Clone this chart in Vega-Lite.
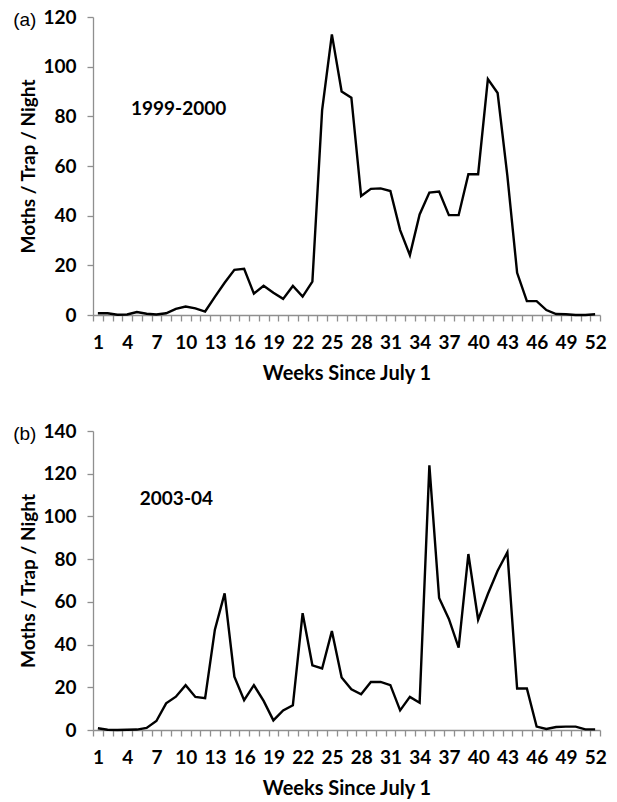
{
  "$schema": "https://vega.github.io/schema/vega-lite/v6.json",
  "padding": {"left": 13, "top": 8, "right": 10, "bottom": 1},
  "spacing": 39,
  "datasets": {
    "season1999": [
      {"week": 1, "moths": 0.7}, {"week": 2, "moths": 0.7}, {"week": 3, "moths": 0.1}, {"week": 4, "moths": 0.2},
      {"week": 5, "moths": 1.2}, {"week": 6, "moths": 0.5}, {"week": 7, "moths": 0.2}, {"week": 8, "moths": 0.7},
      {"week": 9, "moths": 2.5}, {"week": 10, "moths": 3.4}, {"week": 11, "moths": 2.7}, {"week": 12, "moths": 1.4},
      {"week": 13, "moths": 7.3}, {"week": 14, "moths": 13.0}, {"week": 15, "moths": 18.2}, {"week": 16, "moths": 18.6},
      {"week": 17, "moths": 8.6}, {"week": 18, "moths": 11.8}, {"week": 19, "moths": 9.0}, {"week": 20, "moths": 6.5},
      {"week": 21, "moths": 11.7}, {"week": 22, "moths": 7.4}, {"week": 23, "moths": 13.4}, {"week": 24, "moths": 82.5},
      {"week": 25, "moths": 113.0}, {"week": 26, "moths": 90.0}, {"week": 27, "moths": 87.5}, {"week": 28, "moths": 47.9},
      {"week": 29, "moths": 50.8}, {"week": 30, "moths": 51.0}, {"week": 31, "moths": 49.9}, {"week": 32, "moths": 34.2},
      {"week": 33, "moths": 24.1}, {"week": 34, "moths": 40.5}, {"week": 35, "moths": 49.3}, {"week": 36, "moths": 49.7},
      {"week": 37, "moths": 40.2}, {"week": 38, "moths": 40.2}, {"week": 39, "moths": 56.7}, {"week": 40, "moths": 56.7},
      {"week": 41, "moths": 95.0}, {"week": 42, "moths": 89.4}, {"week": 43, "moths": 56.0}, {"week": 44, "moths": 17.0},
      {"week": 45, "moths": 5.6}, {"week": 46, "moths": 5.6}, {"week": 47, "moths": 2.0}, {"week": 48, "moths": 0.4},
      {"week": 49, "moths": 0.3}, {"week": 50, "moths": 0.0}, {"week": 51, "moths": 0.0}, {"week": 52, "moths": 0.3}
    ],
    "season2003": [
      {"week": 1, "moths": 0.8}, {"week": 2, "moths": 0.1}, {"week": 3, "moths": 0.0}, {"week": 4, "moths": 0.1},
      {"week": 5, "moths": 0.2}, {"week": 6, "moths": 1.0}, {"week": 7, "moths": 4.2}, {"week": 8, "moths": 12.5},
      {"week": 9, "moths": 15.6}, {"week": 10, "moths": 21.0}, {"week": 11, "moths": 15.5}, {"week": 12, "moths": 14.9},
      {"week": 13, "moths": 47.0}, {"week": 14, "moths": 64.0}, {"week": 15, "moths": 25.0}, {"week": 16, "moths": 14.0},
      {"week": 17, "moths": 21.0}, {"week": 18, "moths": 13.6}, {"week": 19, "moths": 4.5}, {"week": 20, "moths": 9.2},
      {"week": 21, "moths": 11.6}, {"week": 22, "moths": 54.7}, {"week": 23, "moths": 30.3}, {"week": 24, "moths": 28.8},
      {"week": 25, "moths": 46.3}, {"week": 26, "moths": 24.6}, {"week": 27, "moths": 19.1}, {"week": 28, "moths": 16.7},
      {"week": 29, "moths": 22.5}, {"week": 30, "moths": 22.5}, {"week": 31, "moths": 21.0}, {"week": 32, "moths": 9.2},
      {"week": 33, "moths": 15.5}, {"week": 34, "moths": 12.8}, {"week": 35, "moths": 123.9}, {"week": 36, "moths": 61.8},
      {"week": 37, "moths": 52.0}, {"week": 38, "moths": 38.6}, {"week": 39, "moths": 82.4}, {"week": 40, "moths": 51.6},
      {"week": 41, "moths": 63.7}, {"week": 42, "moths": 74.6}, {"week": 43, "moths": 83.2}, {"week": 44, "moths": 19.4},
      {"week": 45, "moths": 19.4}, {"week": 46, "moths": 1.6}, {"week": 47, "moths": 0.5}, {"week": 48, "moths": 1.4},
      {"week": 49, "moths": 1.6}, {"week": 50, "moths": 1.6}, {"week": 51, "moths": 0.3}, {"week": 52, "moths": 0.3}
    ],
    "annotation": [{}]
  },
  "vconcat": [
    {
      "width": 507,
      "height": 298,
      "layer": [
        {
          "data": {"name": "season1999"},
          "mark": {"type": "line", "color": "#000000", "strokeWidth": 2.4},
          "encoding": {
            "x": {
              "field": "week", "type": "quantitative",
              "scale": {"domain": [0.5, 52.5], "nice": false, "zero": false},
              "axis": {
                "title": "Weeks Since July 1",
                "values": [0.5, 1.5, 2.5, 3.5, 4.5, 5.5, 6.5, 7.5, 8.5, 9.5, 10.5, 11.5, 12.5, 13.5, 14.5, 15.5, 16.5, 17.5, 18.5, 19.5, 20.5, 21.5, 22.5, 23.5, 24.5, 25.5, 26.5, 27.5, 28.5, 29.5, 30.5, 31.5, 32.5, 33.5, 34.5, 35.5, 36.5, 37.5, 38.5, 39.5, 40.5, 41.5, 42.5, 43.5, 44.5, 45.5, 46.5, 47.5, 48.5, 49.5, 50.5, 51.5, 52.5],
                "tickCount": 100,
                "labelExpr": "(datum.value - 0.5) % 3 == 0 ? format(datum.value + 0.5, 'd') : ''",
                "labelOffset": 4.9,
                "labelOverlap": false,
                "labelBound": false,
                "labelFlush": false,
                "ticks": true
              }
            },
            "y": {
              "field": "moths", "type": "quantitative",
              "scale": {"domain": [0, 120], "nice": false},
              "axis": {"title": "Moths / Trap / Night", "values": [0, 20, 40, 60, 80, 100, 120], "tickCount": 20, "ticks": true, "labelOverlap": false}
            }
          }
        },
        {
          "data": {"name": "annotation"},
          "mark": {"type": "text", "align": "left", "baseline": "middle", "fontSize": 19, "fontWeight": "bold", "font": "Lato", "color": "#000000"},
          "encoding": {
            "x": {"datum": 4.4, "type": "quantitative"},
            "y": {"datum": 83, "type": "quantitative"},
            "text": {"value": "1999-2000"}
          }
        },
        {
          "data": {"name": "annotation"},
          "mark": {"type": "text", "align": "right", "baseline": "middle", "fontSize": 19, "font": "Liberation Sans", "color": "#000000", "clip": false, "dy": 3},
          "encoding": {
            "x": {"datum": -5.3, "type": "quantitative"},
            "y": {"datum": 120, "type": "quantitative"},
            "text": {"value": "(a)"}
          }
        }
      ]
    },
    {
      "width": 507,
      "height": 299,
      "layer": [
        {
          "data": {"name": "season2003"},
          "mark": {"type": "line", "color": "#000000", "strokeWidth": 2.4},
          "encoding": {
            "x": {
              "field": "week", "type": "quantitative",
              "scale": {"domain": [0.5, 52.5], "nice": false, "zero": false},
              "axis": {
                "title": "Weeks Since July 1",
                "values": [0.5, 1.5, 2.5, 3.5, 4.5, 5.5, 6.5, 7.5, 8.5, 9.5, 10.5, 11.5, 12.5, 13.5, 14.5, 15.5, 16.5, 17.5, 18.5, 19.5, 20.5, 21.5, 22.5, 23.5, 24.5, 25.5, 26.5, 27.5, 28.5, 29.5, 30.5, 31.5, 32.5, 33.5, 34.5, 35.5, 36.5, 37.5, 38.5, 39.5, 40.5, 41.5, 42.5, 43.5, 44.5, 45.5, 46.5, 47.5, 48.5, 49.5, 50.5, 51.5, 52.5],
                "tickCount": 100,
                "labelExpr": "(datum.value - 0.5) % 3 == 0 ? format(datum.value + 0.5, 'd') : ''",
                "labelOffset": 4.9,
                "labelOverlap": false,
                "labelBound": false,
                "labelFlush": false,
                "ticks": true
              }
            },
            "y": {
              "field": "moths", "type": "quantitative",
              "scale": {"domain": [0, 140], "nice": false},
              "axis": {"title": "Moths / Trap / Night", "values": [0, 20, 40, 60, 80, 100, 120, 140], "tickCount": 20, "ticks": true, "labelOverlap": false}
            }
          }
        },
        {
          "data": {"name": "annotation"},
          "mark": {"type": "text", "align": "left", "baseline": "middle", "fontSize": 19, "fontWeight": "bold", "font": "Lato", "color": "#000000"},
          "encoding": {
            "x": {"datum": 5.3, "type": "quantitative"},
            "y": {"datum": 108, "type": "quantitative"},
            "text": {"value": "2003-04"}
          }
        },
        {
          "data": {"name": "annotation"},
          "mark": {"type": "text", "align": "right", "baseline": "middle", "fontSize": 19, "font": "Liberation Sans", "color": "#000000", "clip": false, "dy": 3},
          "encoding": {
            "x": {"datum": -5.3, "type": "quantitative"},
            "y": {"datum": 140, "type": "quantitative"},
            "text": {"value": "(b)"}
          }
        }
      ]
    }
  ],
  "config": {
    "font": "Lato",
    "view": {"stroke": null},
    "axis": {
      "grid": false,
      "domainColor": "#8f8f8f",
      "domainWidth": 1.3,
      "tickColor": "#8f8f8f",
      "tickWidth": 1.3,
      "tickSize": 6,
      "labelFont": "Lato",
      "labelFontSize": 19,
      "labelFontWeight": "bold",
      "labelColor": "#000000",
      "titleFont": "Lato",
      "titleFontWeight": "bold",
      "titleColor": "#000000"
    },
    "axisX": {
      "labelPadding": 12,
      "titlePadding": 11,
      "titleFontSize": 20
    },
    "axisY": {
      "labelPadding": 11,
      "titlePadding": 4,
      "titleFontSize": 19
    }
  }
}
